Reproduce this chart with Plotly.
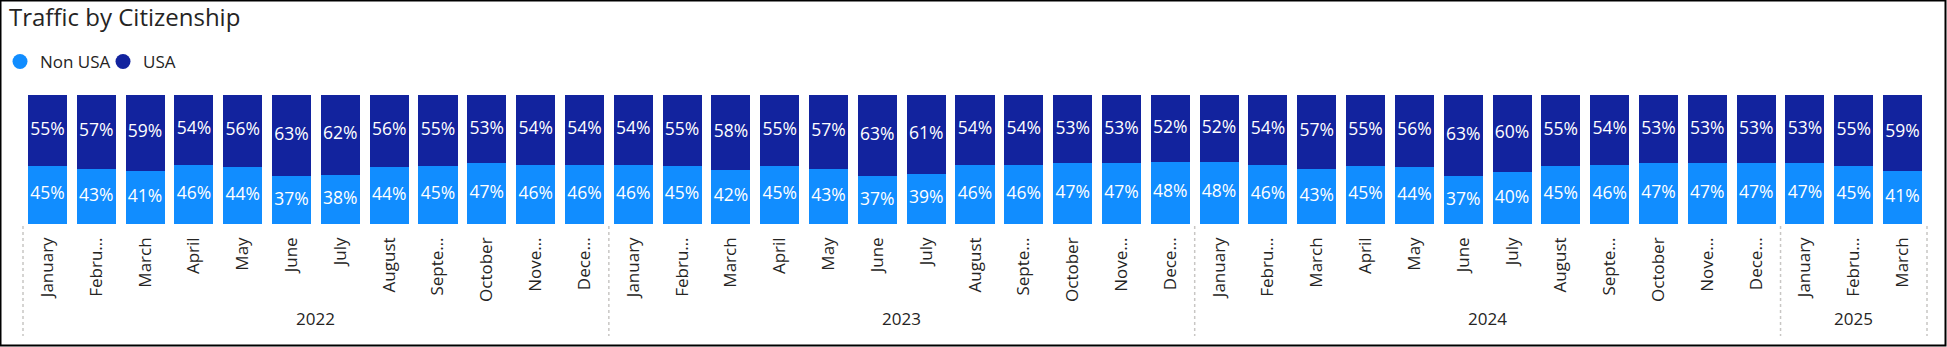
import plotly.graph_objects as go

# ---- data ----
months = ["January", "Febru…", "March", "April", "May", "June", "July",
          "August", "Septe…", "October", "Nove…", "Dece…"]
years = ["2022", "2023", "2024", "2025"]
months_per_year = [12, 12, 12, 3]

usa = [55, 57, 59, 54, 56, 63, 62, 56, 55, 53, 54, 54,
       54, 55, 58, 55, 57, 63, 61, 54, 54, 53, 53, 52,
       52, 54, 57, 55, 56, 63, 60, 55, 54, 53, 53, 53,
       53, 55, 59]
non_usa = [45, 43, 41, 46, 44, 37, 38, 44, 45, 47, 46, 46,
           46, 45, 42, 45, 43, 37, 39, 46, 46, 47, 47, 48,
           48, 46, 43, 45, 44, 37, 40, 45, 46, 47, 47, 47,
           47, 45, 41]

tick_labels = []
for n in months_per_year:
    tick_labels += months[:n]

# ---- layout constants ----
W, H = 1947, 347
L, R, T, B = 23, 20, 95, 123
PW, PH = W - L - R, H - T - B
C_NON = "#118DFF"
C_USA = "#12239E"
TXT = "#252423"
FONT = "Segoe UI, Open Sans, sans-serif"

n = len(usa)
xs = list(range(n))

fig = go.Figure()
fig.add_trace(go.Bar(x=xs, y=non_usa, name="Non USA", marker_color=C_NON,
                     marker_line_width=0, showlegend=False))
fig.add_trace(go.Bar(x=xs, y=usa, name="USA", marker_color=C_USA,
                     marker_line_width=0, showlegend=False))

# data labels centred in each segment
fig.add_trace(go.Scatter(x=xs, y=[v / 2 for v in non_usa], mode="text",
                         text=[f"{v}%" for v in non_usa],
                         textfont=dict(color="white", size=17.5, family=FONT),
                         showlegend=False, cliponaxis=False, hoverinfo="skip"))
fig.add_trace(go.Scatter(x=xs, y=[a + u / 2 for a, u in zip(non_usa, usa)], mode="text",
                         text=[f"{v}%" for v in usa],
                         textfont=dict(color="white", size=17.5, family=FONT),
                         showlegend=False, cliponaxis=False, hoverinfo="skip"))

# legend entries (circles), one legend each to control spacing
for name, col, lg in [("Non USA", C_NON, "legend"), ("USA", C_USA, "legend2")]:
    fig.add_trace(go.Scatter(x=[None], y=[None], mode="markers", name=name,
                             marker=dict(symbol="circle", size=15, color=col),
                             legend=lg))

# year labels and dotted separators
def px_to_py(py):
    return (H - B - py) / PH

shapes = []
annotations = []
start = 0
bounds = [-0.5]
for yr, cnt in zip(years, months_per_year):
    x0 = start - 0.5
    x1 = start + cnt - 0.5
    bounds.append(x1)
    annotations.append(dict(x=(x0 + x1) / 2, y=px_to_py(318), xref="x", yref="paper",
                            text=yr, showarrow=False, xanchor="center", yanchor="middle",
                            font=dict(size=17, color=TXT, family=FONT)))
    start += cnt

for b in bounds:
    xp = (b + 0.5) / n
    shapes.append(dict(type="line", xref="paper", yref="paper",
                       x0=xp, x1=xp, y0=px_to_py(226), y1=px_to_py(336),
                       line=dict(color="#C8C6C4", width=1.5, dash="dot")))

# outer black frame
def px_to_px(px):
    return (px - L) / PW

shapes.append(dict(type="rect", xref="paper", yref="paper",
                   x0=px_to_px(0.5), x1=px_to_px(W - 1.5),
                   y0=px_to_py(H - 1.5), y1=px_to_py(0.5),
                   line=dict(color="black", width=2), fillcolor="rgba(0,0,0,0)"))

legend_common = dict(orientation="h", xanchor="left", xref="container",
                     y=1 - 62 / H, yanchor="middle", yref="container",
                     font=dict(size=17, color=TXT, family=FONT),
                     itemwidth=30, bgcolor="rgba(0,0,0,0)")

fig.update_layout(
    width=W, height=H,
    margin=dict(l=L, r=R, t=T, b=B),
    barmode="stack", bargap=0.2,
    plot_bgcolor="white", paper_bgcolor="white",
    font=dict(family=FONT, color=TXT),
    title=dict(text="Traffic by Citizenship", x=9 / W, xanchor="left", xref="container",
               y=1 - 18 / H, yanchor="middle", yref="container",
               font=dict(size=24, color=TXT, family=FONT)),
    legend=dict(x=0, **legend_common),
    legend2=dict(x=103 / W, **legend_common),
    xaxis=dict(range=[-0.5, n - 0.5], tickmode="array", tickvals=xs, ticktext=tick_labels,
               tickangle=-90, tickfont=dict(size=17, color=TXT, family=FONT),
               showgrid=False, zeroline=False, showline=False, ticks="",
               ticklabelstandoff=9, fixedrange=True),
    yaxis=dict(range=[0, 100], visible=False, fixedrange=True),
    shapes=shapes,
    annotations=annotations,
    showlegend=True,
)

fig.write_html("out.html")
